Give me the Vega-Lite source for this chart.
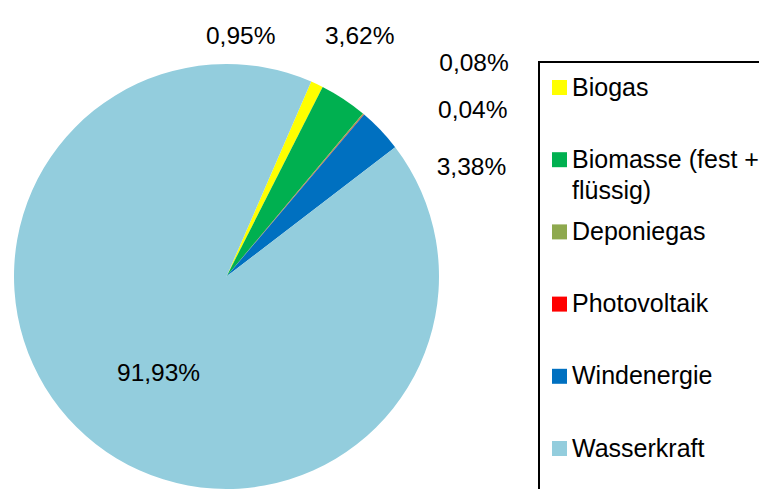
{
  "$schema": "https://vega.github.io/schema/vega-lite/v6.json",
  "autosize": {"type": "none"},
  "width": 453,
  "height": 425,
  "padding": {"left": 0, "top": 64, "right": 306, "bottom": 0},
  "background": "white",
  "config": {
    "view": {"stroke": null},
    "font": "Liberation Sans",
    "style": {"guide-label": {"lineHeight": 31}}
  },
  "data": {
    "values": [
      {"quelle": "Biogas", "anteil": 0.95, "rang": 1, "label": "0,95%"},
      {"quelle": "Biomasse (fest + flüssig)", "anteil": 3.62, "rang": 2, "label": "3,62%"},
      {"quelle": "Deponiegas", "anteil": 0.08, "rang": 3, "label": "0,08%"},
      {"quelle": "Photovoltaik", "anteil": 0.04, "rang": 4, "label": "0,04%"},
      {"quelle": "Windenergie", "anteil": 3.38, "rang": 5, "label": "3,38%"},
      {"quelle": "Wasserkraft", "anteil": 91.93, "rang": 6, "label": "91,93%"}
    ]
  },
  "encoding": {
    "theta": {"field": "anteil", "type": "quantitative", "stack": true, "scale": {"range": [0.41, 6.6932]}},
    "order": {"field": "rang", "type": "quantitative"}
  },
  "layer": [
    {
      "mark": {"type": "arc"},
      "encoding": {
        "color": {
          "field": "quelle",
          "type": "nominal",
          "scale": {
            "domain": ["Biogas", "Biomasse (fest + flüssig)", "Deponiegas", "Photovoltaik", "Windenergie", "Wasserkraft"],
            "range": ["#FFFF00", "#00B050", "#8EA94E", "#FF0000", "#0070C0", "#93CDDD"]
          },
          "legend": {
            "title": " ",
            "titleOrient": "bottom",
            "titleFontSize": 25,
            "titlePadding": 12,
            "orient": "none",
            "legendX": 539,
            "legendY": -2,
            "strokeColor": "#000000",
            "padding": 13,
            "gridAlign": "all",
            "symbolType": "square",
            "symbolSize": 225,
            "symbolStrokeWidth": 0,
            "symbolOffset": -5,
            "labelFont": "Liberation Sans",
            "labelFontSize": 25,
            "labelColor": "#000000",
            "labelLimit": 500,
            "labelOffset": 0,
            "rowPadding": 15.2,
            "labelExpr": "datum.label == 'Biomasse (fest + flüssig)' ? ['Biomasse (fest +', 'flüssig)'] : datum.label",
            "encode": {"legend": {"update": {"strokeWidth": {"value": 2}}}}
          }
        }
      }
    },
    {
      "mark": {"type": "text", "radius": 240, "dx": -88, "dy": -22, "fontSize": 24.5, "fill": "#000000"},
      "encoding": {
        "detail": {"field": "quelle"},
        "text": {"condition": {"test": "datum.quelle === 'Biogas'", "field": "label"}, "value": ""}
      }
    },
    {
      "mark": {"type": "text", "radius": 240, "dx": 1, "dy": -39, "fontSize": 24.5, "fill": "#000000"},
      "encoding": {
        "detail": {"field": "quelle"},
        "text": {"condition": {"test": "datum.quelle === 'Biomasse (fest + flüssig)'", "field": "label"}, "value": ""}
      }
    },
    {
      "mark": {"type": "text", "radius": 240, "dx": 93, "dy": -29, "fontSize": 24.5, "fill": "#000000"},
      "encoding": {
        "detail": {"field": "quelle"},
        "text": {"condition": {"test": "datum.quelle === 'Deponiegas'", "field": "label"}, "value": ""}
      }
    },
    {
      "mark": {"type": "text", "radius": 240, "dx": 91, "dy": 18, "fontSize": 24.5, "fill": "#000000"},
      "encoding": {
        "detail": {"field": "quelle"},
        "text": {"condition": {"test": "datum.quelle === 'Photovoltaik'", "field": "label"}, "value": ""}
      }
    },
    {
      "mark": {"type": "text", "radius": 240, "dx": 71, "dy": 57, "fontSize": 24.5, "fill": "#000000"},
      "encoding": {
        "detail": {"field": "quelle"},
        "text": {"condition": {"test": "datum.quelle === 'Windenergie'", "field": "label"}, "value": ""}
      }
    },
    {
      "mark": {"type": "text", "radius": 120, "dx": 6, "dy": 3, "fontSize": 24.5, "fill": "#000000"},
      "encoding": {
        "detail": {"field": "quelle"},
        "text": {"condition": {"test": "datum.quelle === 'Wasserkraft'", "field": "label"}, "value": ""}
      }
    }
  ]
}
